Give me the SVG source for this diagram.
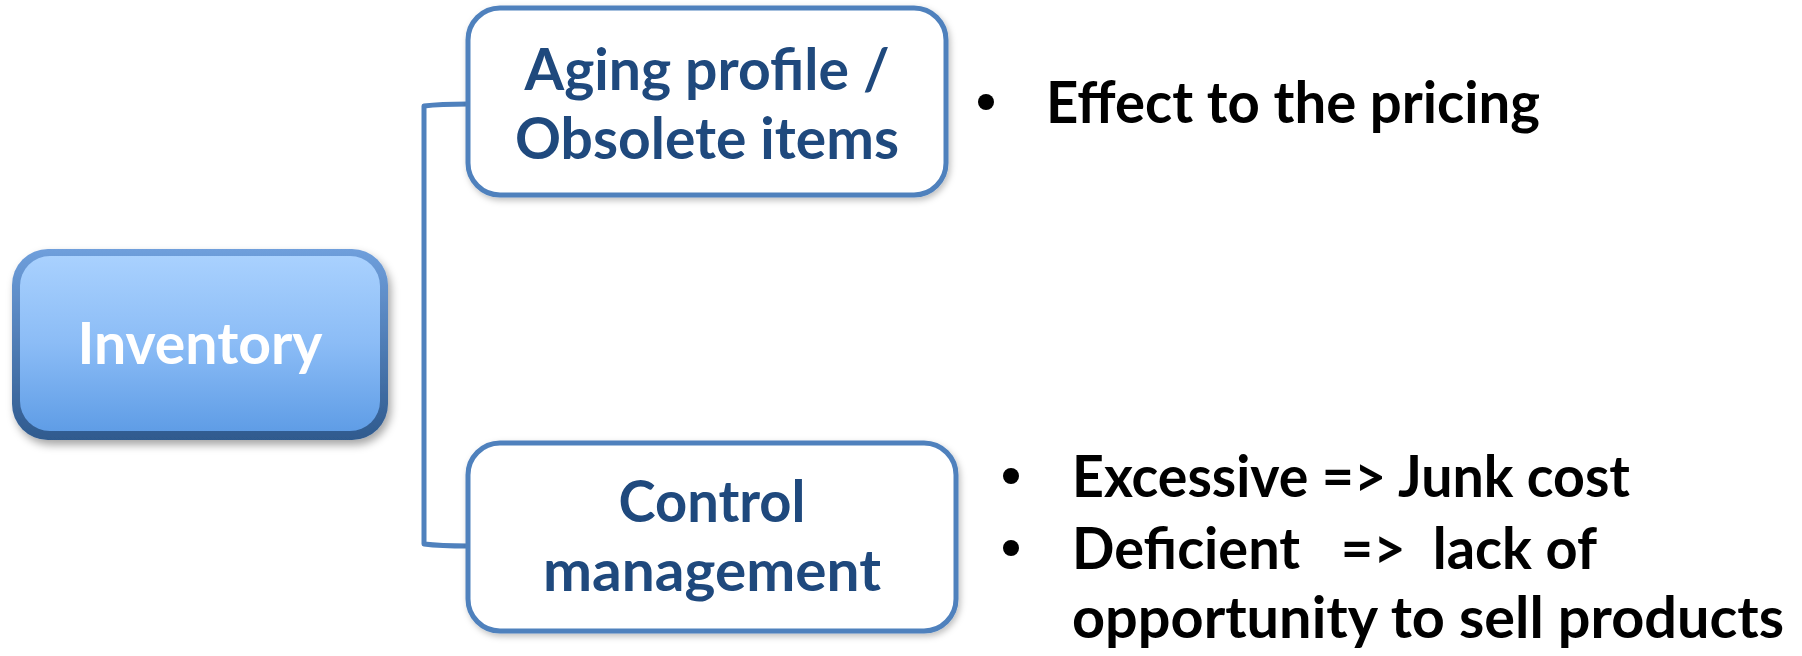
<svg xmlns="http://www.w3.org/2000/svg" width="1802" height="656" viewBox="0 0 1802 656">
<defs>
<linearGradient id="gOuter" x1="0" y1="0" x2="0" y2="1">
<stop offset="0" stop-color="#6f9fdc"/>
<stop offset="1" stop-color="#2f5a8e"/>
</linearGradient>
<linearGradient id="gFace" x1="0" y1="0" x2="0" y2="1">
<stop offset="0" stop-color="#a9d1fe"/>
<stop offset="0.5" stop-color="#8bbcf6"/>
<stop offset="1" stop-color="#5f9de6"/>
</linearGradient>
<filter id="shadow" x="-10%" y="-10%" width="125%" height="130%">
<feDropShadow dx="3" dy="5" stdDeviation="4" flood-color="#000" flood-opacity="0.35"/>
</filter>
<filter id="soft" x="-10%" y="-10%" width="125%" height="130%">
<feDropShadow dx="2" dy="3" stdDeviation="3" flood-color="#000" flood-opacity="0.25"/>
</filter>
</defs>
<style>
.child{fill:#ffffff;stroke:#4f81bd;stroke-width:5}
.ctext{font-family:Lato,"Liberation Sans",sans-serif;font-weight:bold;font-size:58px;fill:#1f497d;text-anchor:middle}
.btext{font-family:Lato,"Liberation Sans",sans-serif;font-weight:bold;font-size:57px;fill:#000000;white-space:pre}
.conn{fill:none;stroke:#4f81bd;stroke-width:5;stroke-linejoin:round}
</style>
<g id="connectors">
<path class="conn" d="M468 104 Q440 104 424 106 L424 544 Q440 546 468 546"/>
</g>
<g id="inventory">
<rect x="12" y="249" width="376" height="191" rx="36" fill="url(#gOuter)" filter="url(#shadow)"/>
<rect x="20" y="256" width="360" height="175" rx="30" fill="url(#gFace)"/>
<text x="200" y="364" font-family="Lato,'Liberation Sans',sans-serif" font-weight="bold" font-size="58" fill="#ffffff" text-anchor="middle" textLength="245" lengthAdjust="spacingAndGlyphs">Inventory</text>
</g>
<g id="aging">
<rect class="child" x="468" y="8" width="478" height="187" rx="32" filter="url(#soft)"/>
<text class="ctext" x="707" y="90" textLength="365" lengthAdjust="spacingAndGlyphs">Aging profile /</text>
<text class="ctext" x="707" y="159" textLength="384" lengthAdjust="spacingAndGlyphs">Obsolete items</text>
</g>
<g id="control">
<rect class="child" x="468" y="443" width="488" height="188" rx="32" filter="url(#soft)"/>
<text class="ctext" x="712" y="522" textLength="187" lengthAdjust="spacingAndGlyphs">Control</text>
<text class="ctext" x="712" y="591" textLength="338" lengthAdjust="spacingAndGlyphs">management</text>
</g>
<g id="bullets1">
<circle cx="986" cy="102" r="8" fill="#000"/>
<text class="btext" x="1046" y="123" textLength="494" lengthAdjust="spacingAndGlyphs">Effect to the pricing</text>
</g>
<g id="bullets2">
<circle cx="1011" cy="476" r="8" fill="#000"/>
<text class="btext" x="1072" y="497" textLength="558" lengthAdjust="spacingAndGlyphs">Excessive =&gt; Junk cost</text>
<circle cx="1011" cy="548" r="8" fill="#000"/>
<text class="btext" x="1072" y="569" textLength="525" lengthAdjust="spacingAndGlyphs">Deficient   =&gt;  lack of</text>
<text class="btext" x="1072" y="638" textLength="712" lengthAdjust="spacingAndGlyphs">opportunity to sell products</text>
</g>
</svg>
